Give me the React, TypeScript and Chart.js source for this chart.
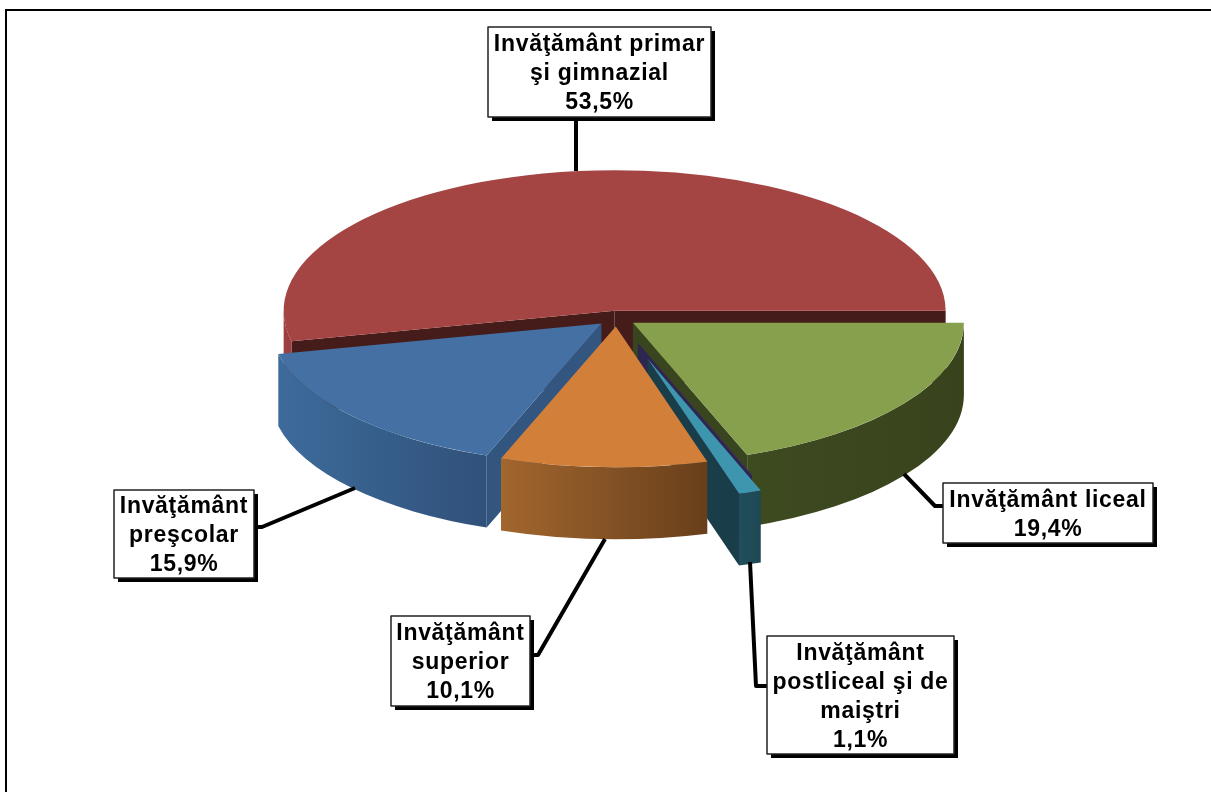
import React, { useEffect, useRef } from "react";
import { Chart, registerables } from "chart.js";

Chart.register(...registerables);

const categories = [
  "Invăţământ primar şi gimnazial",
  "Invăţământ liceal",
  "Alte",
  "Invăţământ postliceal şi de maiştri",
  "Invăţământ superior",
  "Invăţământ preşcolar",
];
const shares = [53.5, 19.4, 0.05, 1.1, 10.1, 15.9];
const explode = [17, 20, 62, 100, 20, 20];
const topColors = ["#a54543", "#87a04d", "#3a2f63", "#3d96ad", "#d27f39", "#4470a4"];
const sideStart = ["#9c403e", "#3e4a20", "#2a2450", "#214e5b", "#a2662e", "#3d6b9b"];
const sideEnd = ["#9c403e", "#38431d", "#2a2450", "#1e4854", "#683f1b", "#30517a"];
const wallColors = ["#451c1a", "#39451e", "#2e2650", "#193d49", "#683f1b", "#32567f"];
const drawOrder = [0, 1, 2, 3, 5, 4];

const TILT = 0.425;
const DEPTH = 72;
const RADIUS = 331;

const labelLines = [
  ["Invăţământ primar", "şi gimnazial"],
  ["Invăţământ liceal"],
  null,
  ["Invăţământ", "postliceal şi de", "maiştri"],
  ["Invăţământ", "superior"],
  ["Invăţământ", "preşcolar"],
];
const labelBoxes: any[] = [
  [488, 27, 223, 90],
  [943, 483, 210, 60],
  null,
  [767, 636, 187, 118],
  [391, 616, 139, 90],
  [114, 490, 140, 88],
];
const leaders: any[] = [
  [[576, 117], [576, 171]],
  [[904, 474], [935, 506], [943, 506]],
  null,
  [[750, 562], [756, 686], [767, 686]],
  [[605, 539], [538, 655], [530, 655]],
  [[355, 488], [262, 527], [254, 527]],
];

const fmt = (v: number) => v.toFixed(1).replace(".", ",") + "%";

const pie3d = {
  id: "pie3d",
  beforeDatasetsDraw(chart: any) {
    const ctx: CanvasRenderingContext2D = chart.ctx;
    const arcs = chart.getDatasetMeta(0).data;
    const base = arcs[0];
    const depth = DEPTH / TILT;

    const shifted = (i: number) => {
      const a = arcs[i];
      const mid = (a.startAngle + a.endAngle) / 2;
      return { a, dx: Math.cos(mid) * explode[i], dy: Math.sin(mid) * explode[i] };
    };

    ctx.save();
    ctx.translate(base.x, base.y);
    ctx.scale(1, TILT);
    ctx.translate(-base.x, -base.y);

    const wall = (x: number, y: number, angle: number, r: number, color: string) => {
      ctx.beginPath();
      ctx.moveTo(x, y);
      ctx.lineTo(x + Math.cos(angle) * r, y + Math.sin(angle) * r);
      ctx.lineTo(x + Math.cos(angle) * r, y + Math.sin(angle) * r + depth);
      ctx.lineTo(x, y + depth);
      ctx.closePath();
      ctx.fillStyle = color;
      ctx.fill();
    };

    for (const i of drawOrder) {
      const { a, dx, dy } = shifted(i);
      const x = a.x + dx;
      const y = a.y + dy;
      const r = a.outerRadius;
      if (Math.sin(a.startAngle - Math.PI / 2) > 0) wall(x, y, a.startAngle, r, wallColors[i]);
      if (Math.sin(a.endAngle + Math.PI / 2) > 0) wall(x, y, a.endAngle, r, wallColors[i]);
      let s = a.startAngle;
      while (s < -0.001) s += Math.PI * 2;
      const e = s + (a.endAngle - a.startAngle);
      const from = Math.max(s, 0);
      const to = Math.min(e, Math.PI);
      if (to > from) {
        const g = ctx.createLinearGradient(x + Math.cos(to) * r, 0, x + Math.cos(from) * r, 0);
        g.addColorStop(0, sideStart[i]);
        g.addColorStop(1, sideEnd[i]);
        ctx.beginPath();
        ctx.arc(x, y, r, from, to);
        ctx.arc(x, y + depth, r, to, from, true);
        ctx.closePath();
        ctx.fillStyle = g;
        ctx.fill();
      }
    }

    for (const i of drawOrder) {
      const { a, dx, dy } = shifted(i);
      ctx.save();
      ctx.translate(dx, dy);
      a.draw(ctx);
      ctx.restore();
    }
    ctx.restore();
    return false;
  },
  afterDraw(chart: any) {
    const ctx: CanvasRenderingContext2D = chart.ctx;
    const { width, height } = chart;
    ctx.save();
    ctx.strokeStyle = "#000";
    ctx.lineWidth = 2;
    ctx.beginPath();
    ctx.moveTo(6, height);
    ctx.lineTo(6, 10);
    ctx.lineTo(width, 10);
    ctx.stroke();

    shares.forEach((value, i) => {
      const box = labelBoxes[i];
      if (!box) return;
      const [bx, by, bw, bh] = box;
      ctx.strokeStyle = "#000";
      ctx.lineWidth = 4;
      ctx.lineJoin = "round";
      ctx.beginPath();
      leaders[i].forEach((p: number[], k: number) => (k ? ctx.lineTo(p[0], p[1]) : ctx.moveTo(p[0], p[1])));
      ctx.stroke();
      ctx.fillStyle = "#000";
      ctx.fillRect(bx + 4, by + 4, bw, bh);
      ctx.fillStyle = "#fff";
      ctx.fillRect(bx, by, bw, bh);
      ctx.strokeStyle = "#222";
      ctx.lineWidth = 1.5;
      ctx.strokeRect(bx, by, bw, bh);
      const lines = [...labelLines[i]!, fmt(value)];
      ctx.fillStyle = "#000";
      ctx.font = 'bold 23px "Liberation Sans"';
      (ctx as any).letterSpacing = "0.7px";
      ctx.textAlign = "center";
      ctx.textBaseline = "alphabetic";
      const lh = 29;
      const y0 = by + bh / 2 - (lines.length * lh) / 2 + 22.8;
      lines.forEach((t, k) => ctx.fillText(t, bx + bw / 2, y0 + k * lh));
    });
    ctx.restore();
  },
};

export default function App() {
  const ref = useRef<HTMLCanvasElement>(null);
  useEffect(() => {
    document.body.style.margin = "0";
    document.body.style.background = "#fff";
    const chart = new Chart(ref.current!, {
      type: "pie",
      data: {
        labels: categories,
        datasets: [{ data: shares, backgroundColor: topColors, borderWidth: 0 }],
      },
      options: {
        responsive: false,
        animation: false,
        rotation: 90 - (shares[0] / shares.reduce((s, v) => s + v, 0)) * 360,
        radius: RADIUS,
        layout: { padding: { left: 22, bottom: 156 } },
        plugins: { legend: { display: false }, tooltip: { enabled: false }, title: { display: false } },
      } as any,
      plugins: [pie3d as any],
    });
    return () => chart.destroy();
  }, []);
  return <canvas ref={ref} width={1211} height={792} style={{ display: "block" }} />;
}
